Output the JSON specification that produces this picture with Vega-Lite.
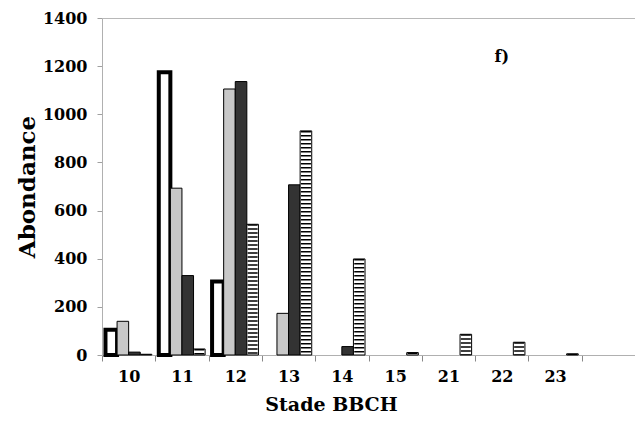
{
  "$schema": "https://vega.github.io/schema/vega-lite/v6.json",
  "width": 533,
  "height": 337,
  "autosize": {"type": "none"},
  "padding": {"left": 102, "top": 18, "right": 0, "bottom": 70},
  "background": "white",
  "config": {"view": {"stroke": null}, "font": "DejaVu Serif"},
  "datasets": {
    "bars": [
      {"stade": "10", "serie": "S1", "abondance": 105},
      {"stade": "11", "serie": "S1", "abondance": 1175},
      {"stade": "12", "serie": "S1", "abondance": 305},
      {"stade": "10", "serie": "S2", "abondance": 140},
      {"stade": "11", "serie": "S2", "abondance": 693},
      {"stade": "12", "serie": "S2", "abondance": 1105},
      {"stade": "13", "serie": "S2", "abondance": 173},
      {"stade": "10", "serie": "S3", "abondance": 12},
      {"stade": "11", "serie": "S3", "abondance": 330},
      {"stade": "12", "serie": "S3", "abondance": 1136},
      {"stade": "13", "serie": "S3", "abondance": 707},
      {"stade": "14", "serie": "S3", "abondance": 35},
      {"stade": "10", "serie": "S4", "abondance": 3},
      {"stade": "11", "serie": "S4", "abondance": 25},
      {"stade": "12", "serie": "S4", "abondance": 543},
      {"stade": "13", "serie": "S4", "abondance": 931},
      {"stade": "14", "serie": "S4", "abondance": 399},
      {"stade": "15", "serie": "S4", "abondance": 10},
      {"stade": "21", "serie": "S4", "abondance": 86},
      {"stade": "22", "serie": "S4", "abondance": 53},
      {"stade": "23", "serie": "S4", "abondance": 5}
    ],
    "note": [{"stade": "22", "abondance": 1240, "label": "f)"}]
  },
  "layer": [
    {
      "data": {"name": "bars"},
      "mark": {"type": "bar", "stroke": "black"},
      "encoding": {
        "x": {
          "field": "stade",
          "type": "nominal",
          "scale": {"domain": ["10", "11", "12", "13", "14", "15", "21", "22", "23", ""], "paddingInner": 0, "paddingOuter": 0},
          "axis": {
            "title": "Stade BBCH",
            "labelAngle": 0,
            "ticks": true,
            "tickBand": "extent",
            "domainColor": "#b0b0b0",
            "tickColor": "#888888",
            "tickWidth": 1,
            "tickSize": 6,
            "labelFont": "DejaVu Serif",
            "labelFontWeight": "bold",
            "labelFontSize": 16,
            "labelColor": "black",
            "labelPadding": 7,
            "titleFont": "DejaVu Serif",
            "titleFontWeight": "bold",
            "titleFontSize": 19,
            "titleColor": "black",
            "titleX": 229,
            "titleAlign": "center",
            "titlePadding": 11,
            "grid": false
          }
        },
        "xOffset": {
          "field": "serie",
          "type": "nominal",
          "scale": {"domain": ["S1", "S2", "S3", "S4"], "paddingInner": 0, "paddingOuter": 0.3}
        },
        "y": {
          "field": "abondance",
          "type": "quantitative",
          "scale": {"domain": [0, 1400], "nice": false},
          "axis": {
            "title": "Abondance",
            "format": "d",
            "values": [0, 200, 400, 600, 800, 1000, 1200, 1400],
            "domainColor": "#b0b0b0",
            "tickColor": "#a0a0a0",
            "tickSize": 5,
            "labelFont": "DejaVu Serif",
            "labelFontWeight": "bold",
            "labelFontSize": 16,
            "labelColor": "black",
            "labelPadding": 10,
            "titleFont": "DejaVu Serif",
            "titleFontWeight": "bold",
            "titleFontSize": 23,
            "titleColor": "black",
            "titlePadding": 3,
            "grid": true,
            "gridColor": "#b8b8b8",
            "gridOpacity": {"condition": {"test": "datum.value === 1400", "value": 1}, "value": 0}
          }
        },
        "fill": {
          "field": "serie",
          "type": "nominal",
          "scale": {"domain": ["S1", "S2", "S3", "S4"], "range": ["white", "#c8c8c8", "#333333", "white"]},
          "legend": null
        },
        "strokeWidth": {"condition": {"test": "datum.serie === 'S1'", "value": 4}, "value": 1}
      }
    },
    {
      "data": {"name": "bars"},
      "transform": [{"filter": "datum.serie === 'S4'"}],
      "mark": {"type": "rule", "color": "black", "strokeWidth": 10, "strokeDash": [1.5, 2.5], "strokeCap": "butt"},
      "encoding": {
        "x": {"field": "stade", "type": "nominal"},
        "xOffset": {"field": "serie", "type": "nominal"},
        "y": {"field": "abondance", "type": "quantitative"},
        "y2": {"datum": 0}
      }
    },
    {
      "data": {"name": "note"},
      "mark": {"type": "text", "font": "DejaVu Serif", "fontWeight": "bold", "fontSize": 16, "color": "black", "align": "center", "baseline": "middle"},
      "encoding": {
        "x": {"field": "stade", "type": "nominal"},
        "y": {"field": "abondance", "type": "quantitative"},
        "text": {"field": "label"}
      }
    }
  ]
}
